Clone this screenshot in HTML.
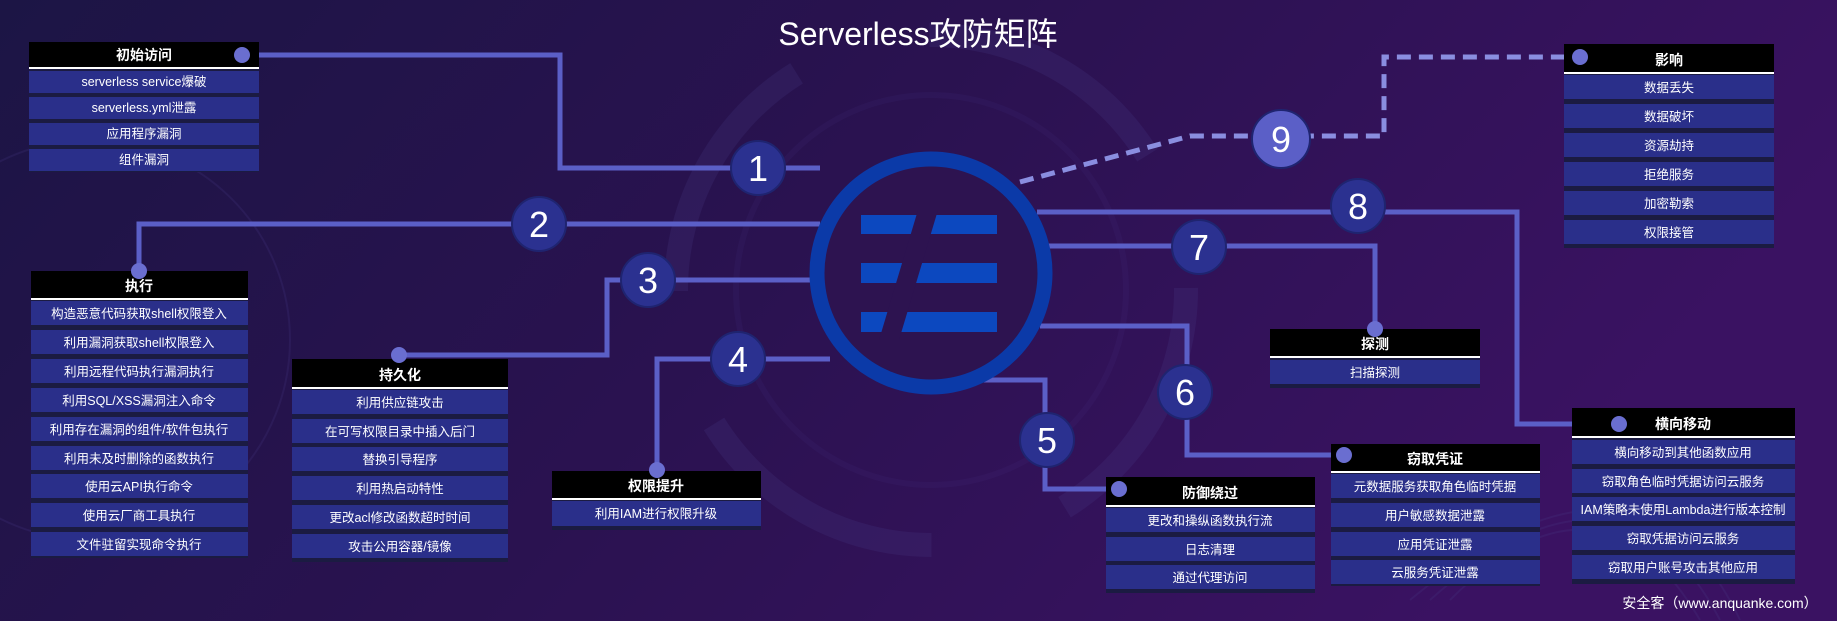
<!DOCTYPE html>
<html><head><meta charset="utf-8"><style>
html,body{margin:0;padding:0;width:1837px;height:621px;overflow:hidden;background:#221448;}
svg{display:block}
text{font-family:"Liberation Sans","Noto Sans CJK SC",sans-serif;}
</style></head><body>
<svg width="1837" height="621" viewBox="0 0 1837 621" xmlns="http://www.w3.org/2000/svg">
<defs>
<linearGradient id="bg" x1="0" y1="0" x2="1" y2="0.3">
<stop offset="0" stop-color="#1c1545"/>
<stop offset="0.5" stop-color="#2a1250"/>
<stop offset="1" stop-color="#3a1262"/>
</linearGradient>
</defs>
<rect width="1837" height="621" fill="url(#bg)"/>
<!-- faint decorative arcs -->
<g fill="none" stroke="#4a3a8a" stroke-opacity="0.22">
<circle cx="931" cy="290" r="255" stroke-width="24" stroke-dasharray="260 140"/>
<circle cx="931" cy="290" r="195" stroke-width="6" stroke-opacity="0.12"/>
<circle cx="90" cy="340" r="200" stroke-width="2" stroke-opacity="0.2"/>
<path d="M1700 620 Q1600 450 1450 600" stroke-width="2"/>
<path d="M1720 620 Q1620 430 1430 600" stroke-width="2"/>
<path d="M1740 620 Q1640 410 1410 600" stroke-width="2"/>
</g>
<!-- connectors -->
<g fill="none" stroke="#5b5fc7" stroke-width="5">
<polyline points="242,55 560,55 560,168 820,168"/>
<polyline points="139,272 139,224 820,224"/>
<polyline points="399,355 607,355 607,280 820,280"/>
<polyline points="657,470 657,359 830,359"/>
<polyline points="1040,326 1187,326 1187,455 1344,455"/>
<polyline points="982,380 1045,380 1045,489 1119,489"/>
<polyline points="1040,246 1375,246 1375,329"/>
<polyline points="1037,212 1517,212 1517,424 1619,424"/>
<polyline points="1020,182 1190,136 1384,136 1384,57 1580,57" stroke="#8a8ee0" stroke-dasharray="14 8"/>
</g>
<!-- central ring -->
<circle cx="931" cy="273" r="114" fill="#2d1350" stroke="#0b3aa8" stroke-width="15"/>
<g fill="#0c48bf">
<rect x="861" y="215" width="136" height="19"/>
<rect x="861" y="263" width="136" height="20"/>
<rect x="861" y="312" width="136" height="20"/>
</g>
<polygon points="918,210 938,210 899,340 879,340" fill="#2d1350"/>
<!-- numbered circles -->
<g font-size="36" fill="#fff" text-anchor="middle">
<g stroke="#1f2470" stroke-width="2" fill="#2b3190">
<circle cx="758" cy="168" r="27"/><circle cx="539" cy="224" r="27"/>
<circle cx="648" cy="280" r="27"/><circle cx="738" cy="359" r="27"/>
<circle cx="1047" cy="440" r="27"/><circle cx="1185" cy="392" r="27"/>
<circle cx="1199" cy="247" r="27"/><circle cx="1358" cy="206" r="27"/>
<circle cx="1281" cy="139" r="29" fill="#5b5fc7"/>
</g>
<text x="758" y="181">1</text><text x="539" y="237">2</text>
<text x="648" y="293">3</text><text x="738" y="372">4</text>
<text x="1047" y="453">5</text><text x="1185" y="405">6</text>
<text x="1199" y="260">7</text><text x="1358" y="219">8</text>
<text x="1281" y="152">9</text>
</g>
<text x="918" y="45" font-size="32" fill="#fff" text-anchor="middle">Serverless攻防矩阵</text>
<text x="1720" y="608" font-size="14" fill="#fff" text-anchor="middle">安全客（www.anquanke.com）</text>

<!-- boxes -->
<g font-size="12.5" fill="#fff" text-anchor="middle">
<rect x="29" y="42" width="230" height="130" fill="#1b1b42"/>
<rect x="29" y="42" width="230" height="25" fill="#000"/><rect x="29" y="67" width="230" height="2" fill="#fff"/>
<text x="144" y="60" font-weight="bold" font-size="14">初始访问</text>
<rect x="29" y="71" width="230" height="22" fill="#2a2f8a"/><text x="144" y="86">serverless service爆破</text>
<rect x="29" y="97" width="230" height="22" fill="#2a2f8a"/><text x="144" y="112">serverless.yml泄露</text>
<rect x="29" y="123" width="230" height="22" fill="#2a2f8a"/><text x="144" y="138">应用程序漏洞</text>
<rect x="29" y="149" width="230" height="22" fill="#2a2f8a"/><text x="144" y="164">组件漏洞</text>

<rect x="31" y="271" width="217" height="287" fill="#1b1b42"/>
<rect x="31" y="271" width="217" height="27" fill="#000"/><rect x="31" y="298" width="217" height="2" fill="#fff"/>
<text x="139" y="291" font-weight="bold" font-size="14">执行</text>
<rect x="31" y="301" width="217" height="24" fill="#2a2f8a"/><text x="139" y="318">构造恶意代码获取shell权限登入</text>
<rect x="31" y="330" width="217" height="24" fill="#2a2f8a"/><text x="139" y="347">利用漏洞获取shell权限登入</text>
<rect x="31" y="359" width="217" height="24" fill="#2a2f8a"/><text x="139" y="376">利用远程代码执行漏洞执行</text>
<rect x="31" y="388" width="217" height="24" fill="#2a2f8a"/><text x="139" y="405">利用SQL/XSS漏洞注入命令</text>
<rect x="31" y="417" width="217" height="24" fill="#2a2f8a"/><text x="139" y="434">利用存在漏洞的组件/软件包执行</text>
<rect x="31" y="446" width="217" height="24" fill="#2a2f8a"/><text x="139" y="463">利用未及时删除的函数执行</text>
<rect x="31" y="474" width="217" height="24" fill="#2a2f8a"/><text x="139" y="491">使用云API执行命令</text>
<rect x="31" y="503" width="217" height="24" fill="#2a2f8a"/><text x="139" y="520">使用云厂商工具执行</text>
<rect x="31" y="532" width="217" height="24" fill="#2a2f8a"/><text x="139" y="549">文件驻留实现命令执行</text>

<rect x="292" y="359" width="216" height="203" fill="#1b1b42"/>
<rect x="292" y="359" width="216" height="28" fill="#000"/><rect x="292" y="387" width="216" height="2" fill="#fff"/>
<text x="400" y="380" font-weight="bold" font-size="14">持久化</text>
<rect x="292" y="390" width="216" height="24" fill="#2a2f8a"/><text x="400" y="407">利用供应链攻击</text>
<rect x="292" y="419" width="216" height="24" fill="#2a2f8a"/><text x="400" y="436">在可写权限目录中插入后门</text>
<rect x="292" y="447" width="216" height="24" fill="#2a2f8a"/><text x="400" y="464">替换引导程序</text>
<rect x="292" y="476" width="216" height="24" fill="#2a2f8a"/><text x="400" y="493">利用热启动特性</text>
<rect x="292" y="505" width="216" height="24" fill="#2a2f8a"/><text x="400" y="522">更改acl修改函数超时时间</text>
<rect x="292" y="534" width="216" height="24" fill="#2a2f8a"/><text x="400" y="551">攻击公用容器/镜像</text>

<rect x="552" y="471" width="209" height="59" fill="#1b1b42"/>
<rect x="552" y="471" width="209" height="27" fill="#000"/><rect x="552" y="498" width="209" height="2" fill="#fff"/>
<text x="656" y="491" font-weight="bold" font-size="14">权限提升</text>
<rect x="552" y="501" width="209" height="25" fill="#2a2f8a"/><text x="656" y="518">利用IAM进行权限升级</text>

<rect x="1106" y="477" width="209" height="116" fill="#1b1b42"/>
<rect x="1106" y="477" width="209" height="28" fill="#000"/><rect x="1106" y="505" width="209" height="2" fill="#fff"/>
<text x="1210" y="498" font-weight="bold" font-size="14">防御绕过</text>
<rect x="1106" y="508" width="209" height="24" fill="#2a2f8a"/><text x="1210" y="525">更改和操纵函数执行流</text>
<rect x="1106" y="537" width="209" height="24" fill="#2a2f8a"/><text x="1210" y="554">日志清理</text>
<rect x="1106" y="565" width="209" height="24" fill="#2a2f8a"/><text x="1210" y="582">通过代理访问</text>

<rect x="1331" y="444" width="209" height="142" fill="#1b1b42"/>
<rect x="1331" y="444" width="209" height="27" fill="#000"/><rect x="1331" y="471" width="209" height="2" fill="#fff"/>
<text x="1435" y="464" font-weight="bold" font-size="14">窃取凭证</text>
<rect x="1331" y="474" width="209" height="24" fill="#2a2f8a"/><text x="1435" y="491">元数据服务获取角色临时凭据</text>
<rect x="1331" y="503" width="209" height="24" fill="#2a2f8a"/><text x="1435" y="520">用户敏感数据泄露</text>
<rect x="1331" y="532" width="209" height="24" fill="#2a2f8a"/><text x="1435" y="549">应用凭证泄露</text>
<rect x="1331" y="560" width="209" height="24" fill="#2a2f8a"/><text x="1435" y="577">云服务凭证泄露</text>

<rect x="1270" y="329" width="210" height="59" fill="#1b1b42"/>
<rect x="1270" y="329" width="210" height="27" fill="#000"/><rect x="1270" y="356" width="210" height="2" fill="#fff"/>
<text x="1375" y="349" font-weight="bold" font-size="14">探测</text>
<rect x="1270" y="360" width="210" height="24" fill="#2a2f8a"/><text x="1375" y="377">扫描探测</text>

<rect x="1572" y="408" width="223" height="176" fill="#1b1b42"/>
<rect x="1572" y="408" width="223" height="28" fill="#000"/><rect x="1572" y="436" width="223" height="2" fill="#fff"/>
<text x="1683" y="429" font-weight="bold" font-size="14">横向移动</text>
<rect x="1572" y="440" width="223" height="24" fill="#2a2f8a"/><text x="1683" y="457">横向移动到其他函数应用</text>
<rect x="1572" y="469" width="223" height="24" fill="#2a2f8a"/><text x="1683" y="486">窃取角色临时凭据访问云服务</text>
<rect x="1572" y="497" width="223" height="24" fill="#2a2f8a"/><text x="1683" y="514">IAM策略未使用Lambda进行版本控制</text>
<rect x="1572" y="526" width="223" height="24" fill="#2a2f8a"/><text x="1683" y="543">窃取凭据访问云服务</text>
<rect x="1572" y="555" width="223" height="24" fill="#2a2f8a"/><text x="1683" y="572">窃取用户账号攻击其他应用</text>

<rect x="1564" y="44" width="210" height="204" fill="#1b1b42"/>
<rect x="1564" y="44" width="210" height="28" fill="#000"/><rect x="1564" y="72" width="210" height="2" fill="#fff"/>
<text x="1669" y="65" font-weight="bold" font-size="14">影响</text>
<rect x="1564" y="75" width="210" height="24" fill="#2a2f8a"/><text x="1669" y="92">数据丢失</text>
<rect x="1564" y="104" width="210" height="24" fill="#2a2f8a"/><text x="1669" y="121">数据破坏</text>
<rect x="1564" y="133" width="210" height="24" fill="#2a2f8a"/><text x="1669" y="150">资源劫持</text>
<rect x="1564" y="162" width="210" height="24" fill="#2a2f8a"/><text x="1669" y="179">拒绝服务</text>
<rect x="1564" y="191" width="210" height="24" fill="#2a2f8a"/><text x="1669" y="208">加密勒索</text>
<rect x="1564" y="220" width="210" height="24" fill="#2a2f8a"/><text x="1669" y="237">权限接管</text>
</g>
<!-- dots on top -->
<g fill="#6a6ed0">
<circle cx="242" cy="55" r="8"/><circle cx="139" cy="271" r="8"/>
<circle cx="399" cy="355" r="8"/><circle cx="657" cy="470" r="8"/>
<circle cx="1119" cy="489" r="8"/><circle cx="1344" cy="455" r="8"/>
<circle cx="1375" cy="329" r="8"/><circle cx="1619" cy="424" r="8"/>
<circle cx="1580" cy="57" r="8"/>
</g>
</svg>
</body></html>
